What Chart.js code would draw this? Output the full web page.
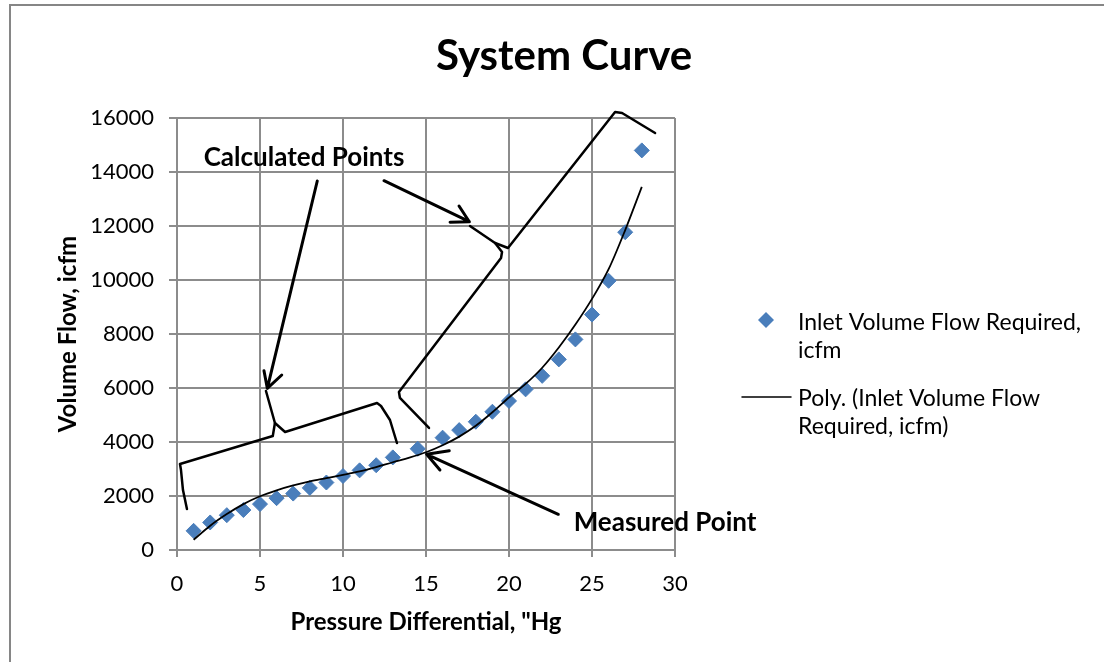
<!DOCTYPE html>
<html>
<head>
<meta charset="utf-8">
<script src="https://cdn.jsdelivr.net/npm/chart.js@4.4.1/dist/chart.umd.min.js"></script>
<style>
  html, body { margin: 0; padding: 0; background: #ffffff; overflow: hidden; }
  #wrap { width: 1104px; height: 662px; }
</style>
</head>
<body>
<div id="wrap"><canvas id="graficoSistema" width="1104" height="662"></canvas></div>
<script>

// inlet volume flow required (icfm) vs pressure differential ("Hg)
const pressao = [1, 2, 3, 4, 5, 6, 7, 8, 9, 10, 11, 12, 13, 14.5, 16, 17, 18, 19, 20, 21, 22, 23, 24, 25, 26, 27, 28];
const vazao = [710, 1020, 1290, 1480, 1700, 1920, 2090, 2300, 2500, 2740, 2950, 3140, 3430, 3750, 4160, 4440, 4750, 5120, 5520, 5950, 6450, 7060, 7800, 8720, 9970, 11770, 14800];

// polynomial trendline
const trendX = [1, 2, 3, 4, 5, 6, 7, 8, 9, 10, 11, 12, 13, 14, 15, 16, 17, 18, 19, 20, 21, 22, 23, 24, 25, 26, 27, 28];
const trendY = [380, 900, 1330, 1700, 1990, 2210, 2390, 2540, 2660, 2780, 2910, 3070, 3250, 3420, 3620, 3880, 4200, 4600, 5100, 5650, 6150, 6750, 7500, 8350, 9300, 10400, 11850, 13450];

const xTicks = [0, 5, 10, 15, 20, 25, 30];
const yTicks = [0, 2000, 4000, 6000, 8000, 10000, 12000, 14000, 16000];

const titulo = "System Curve";
const tituloX = "Pressure Differential, \"Hg";
const tituloY = "Volume Flow, icfm";
const serieNome = "Inlet Volume Flow Required, icfm";
const trendNome = "Poly. (Inlet Volume Flow Required, icfm)";

// hand drawn notes, in chart units
const chaveEsq = [[5.36, 5889], [5.90, 4704], [5.77, 4222], [0.18, 3185], [0.24, 2963], [0.36, 2222], [0.60, 1519]];
const chaveEsq2 = [[5.90, 4704], [6.51, 4370], [12.05, 5444], [12.29, 5333], [12.83, 4815], [13.25, 3963]];
const chaveSup = [[17.65, 12000], [19.16, 11370], [19.94, 11185], [26.39, 16222], [26.81, 16185], [28.80, 15444]];
const chaveSup2 = [[19.16, 11370], [19.58, 11037], [19.52, 10815], [13.37, 5852], [13.43, 5630], [15.18, 4519]];
const setas = [
    { de: [8.45, 13667], para: [5.44, 5988], asas: [[5.24, 6641], [6.31, 6481]] },
    { de: [12.47, 13678], para: [17.61, 12159], asas: [[16.99, 12741], [16.45, 12137]] },
    { de: [22.97, 1322], para: [15.04, 3544], asas: [[15.84, 2963], [16.40, 3678]] }
];
const notas = [
    { texto: "Calculated Points", x: 7.65, y: 14519 },
    { texto: "Measured Point", x: 29.40, y: 1000 }
];

const azul = "#4a7ebb";
const grade = "#8c8c8c";
const fonte = "Lato, 'DejaVu Sans', sans-serif";

function quebrarTexto(ctx, texto, largura){
    const palavras = texto.split(" ");
    const linhas = [];
    let atual = "";
    for (const p of palavras){
        const teste = atual ? atual + " " + p : p;
        if (ctx.measureText(teste).width > largura && atual){
            linhas.push(atual);
            atual = p;
        } else {
            atual = teste;
        }
    }
    if (atual) linhas.push(atual);
    return linhas;
}

const desenhos = {
    id: "desenhos",
    beforeDraw(chart){
        const ctx = chart.ctx;
        ctx.save();
        ctx.fillStyle = "#ffffff";
        ctx.fillRect(0, 0, chart.width, chart.height);
        // outer frame, only the left and top edges are in view
        ctx.strokeStyle = "#868686";
        ctx.lineWidth = 2;
        ctx.beginPath();
        ctx.moveTo(10, chart.height);
        ctx.lineTo(10, 5);
        ctx.lineTo(chart.width, 5);
        ctx.stroke();
        ctx.restore();
    },
    afterDraw(chart){
        const ctx = chart.ctx;
        const sx = chart.scales.x;
        const sy = chart.scales.y;
        const px = (p) => [sx.getPixelForValue(p[0]), sy.getPixelForValue(p[1])];

        ctx.save();
        ctx.strokeStyle = "#000000";
        ctx.lineCap = "round";
        ctx.lineJoin = "round";

        ctx.lineWidth = 2.5;
        for (const linha of [chaveEsq, chaveEsq2, chaveSup, chaveSup2]){
            ctx.beginPath();
            linha.forEach((p, i) => {
                const [x, y] = px(p);
                if (i === 0) ctx.moveTo(x, y); else ctx.lineTo(x, y);
            });
            ctx.stroke();
        }

        ctx.lineWidth = 3;
        for (const s of setas){
            const a = px(s.de), b = px(s.para);
            ctx.beginPath();
            ctx.moveTo(a[0], a[1]);
            ctx.lineTo(b[0], b[1]);
            for (const w of s.asas){
                const c = px(w);
                ctx.moveTo(b[0], b[1]);
                ctx.lineTo(c[0], c[1]);
            }
            ctx.stroke();
        }

        ctx.fillStyle = "#000000";
        ctx.font = "bold 26px " + fonte;
        ctx.textAlign = "center";
        ctx.textBaseline = "middle";
        for (const n of notas){
            const [x, y] = px([n.x, n.y]);
            ctx.fillText(n.texto, x, y);
        }

        // title, centred on the outer frame
        ctx.font = "bold 42px " + fonte;
        ctx.fillText(titulo, 564, 56);

        // legend
        ctx.font = "23px " + fonte;
        ctx.textAlign = "left";
        ctx.textBaseline = "alphabetic";
        const ds0 = chart.data.datasets[1];
        const ds1 = chart.data.datasets[0];

        ctx.fillStyle = ds0.backgroundColor;
        ctx.beginPath();
        ctx.moveTo(766, 312);
        ctx.lineTo(774, 320);
        ctx.lineTo(766, 328);
        ctx.lineTo(758, 320);
        ctx.closePath();
        ctx.fill();
        ctx.fillStyle = "#000000";
        quebrarTexto(ctx, ds0.label, 300).forEach((t, i) => ctx.fillText(t, 798, 330 + i * 28));

        ctx.strokeStyle = ds1.borderColor;
        ctx.lineWidth = 1.5;
        ctx.beginPath();
        ctx.moveTo(742, 397);
        ctx.lineTo(791, 397);
        ctx.stroke();
        quebrarTexto(ctx, ds1.label, 300).forEach((t, i) => ctx.fillText(t, 798, 406 + i * 28));

        ctx.restore();
    }
};

const ctx = document.getElementById("graficoSistema");

new Chart(ctx, {

    type: "scatter",

    data: {

        datasets: [

            {
                label: trendNome,
                data: trendX.map((x, i) => ({ x: x, y: trendY[i] })),
                showLine: true,
                borderColor: "#000000",
                borderWidth: 1.8,
                pointRadius: 0,
                cubicInterpolationMode: "monotone",
                order: 0
            },

            {
                label: serieNome,
                data: pressao.map((x, i) => ({ x: x, y: vazao[i] })),
                backgroundColor: azul,
                borderColor: azul,
                pointStyle: "rectRot",
                pointRadius: 7.5,
                order: 1
            }

        ]

    },

    options: {

        responsive: false,
        animation: false,
        devicePixelRatio: 1,

        layout: {
            padding: { left: 10, top: 118, right: 429, bottom: 10 }
        },

        plugins: {
            legend: { display: false },
            title: { display: false },
            tooltip: { enabled: false }
        },

        scales: {

            x: {
                type: "linear",
                position: "bottom",
                min: 0,
                max: 30,
                afterBuildTicks: (scale) => { scale.ticks = xTicks.map(v => ({ value: v })); },
                afterFit: (scale) => { scale.height = 102; },
                grid: { color: grade, lineWidth: 2, tickLength: 7 },
                border: { color: grade, width: 2 },
                ticks: { color: "#000000", padding: 14, font: { family: fonte, size: 22 } },
                title: {
                    display: true,
                    text: tituloX,
                    color: "#000000",
                    font: { family: fonte, size: 24, weight: "bold" },
                    padding: { top: 0, bottom: 15 }
                }
            },

            y: {
                min: 0,
                max: 16000,
                afterBuildTicks: (scale) => { scale.ticks = yTicks.map(v => ({ value: v })); },
                afterFit: (scale) => { scale.width = 167; },
                grid: { color: grade, lineWidth: 2, tickLength: 8 },
                border: { color: grade, width: 2 },
                ticks: {
                    color: "#000000",
                    padding: 15,
                    font: { family: fonte, size: 22 },
                    callback: (v) => String(v)
                },
                title: {
                    display: true,
                    text: tituloY,
                    color: "#000000",
                    font: { family: fonte, size: 24, weight: "bold" },
                    padding: { top: 44, bottom: 0 }
                }
            }

        }

    },

    plugins: [desenhos]

});

</script>
</body>
</html>
